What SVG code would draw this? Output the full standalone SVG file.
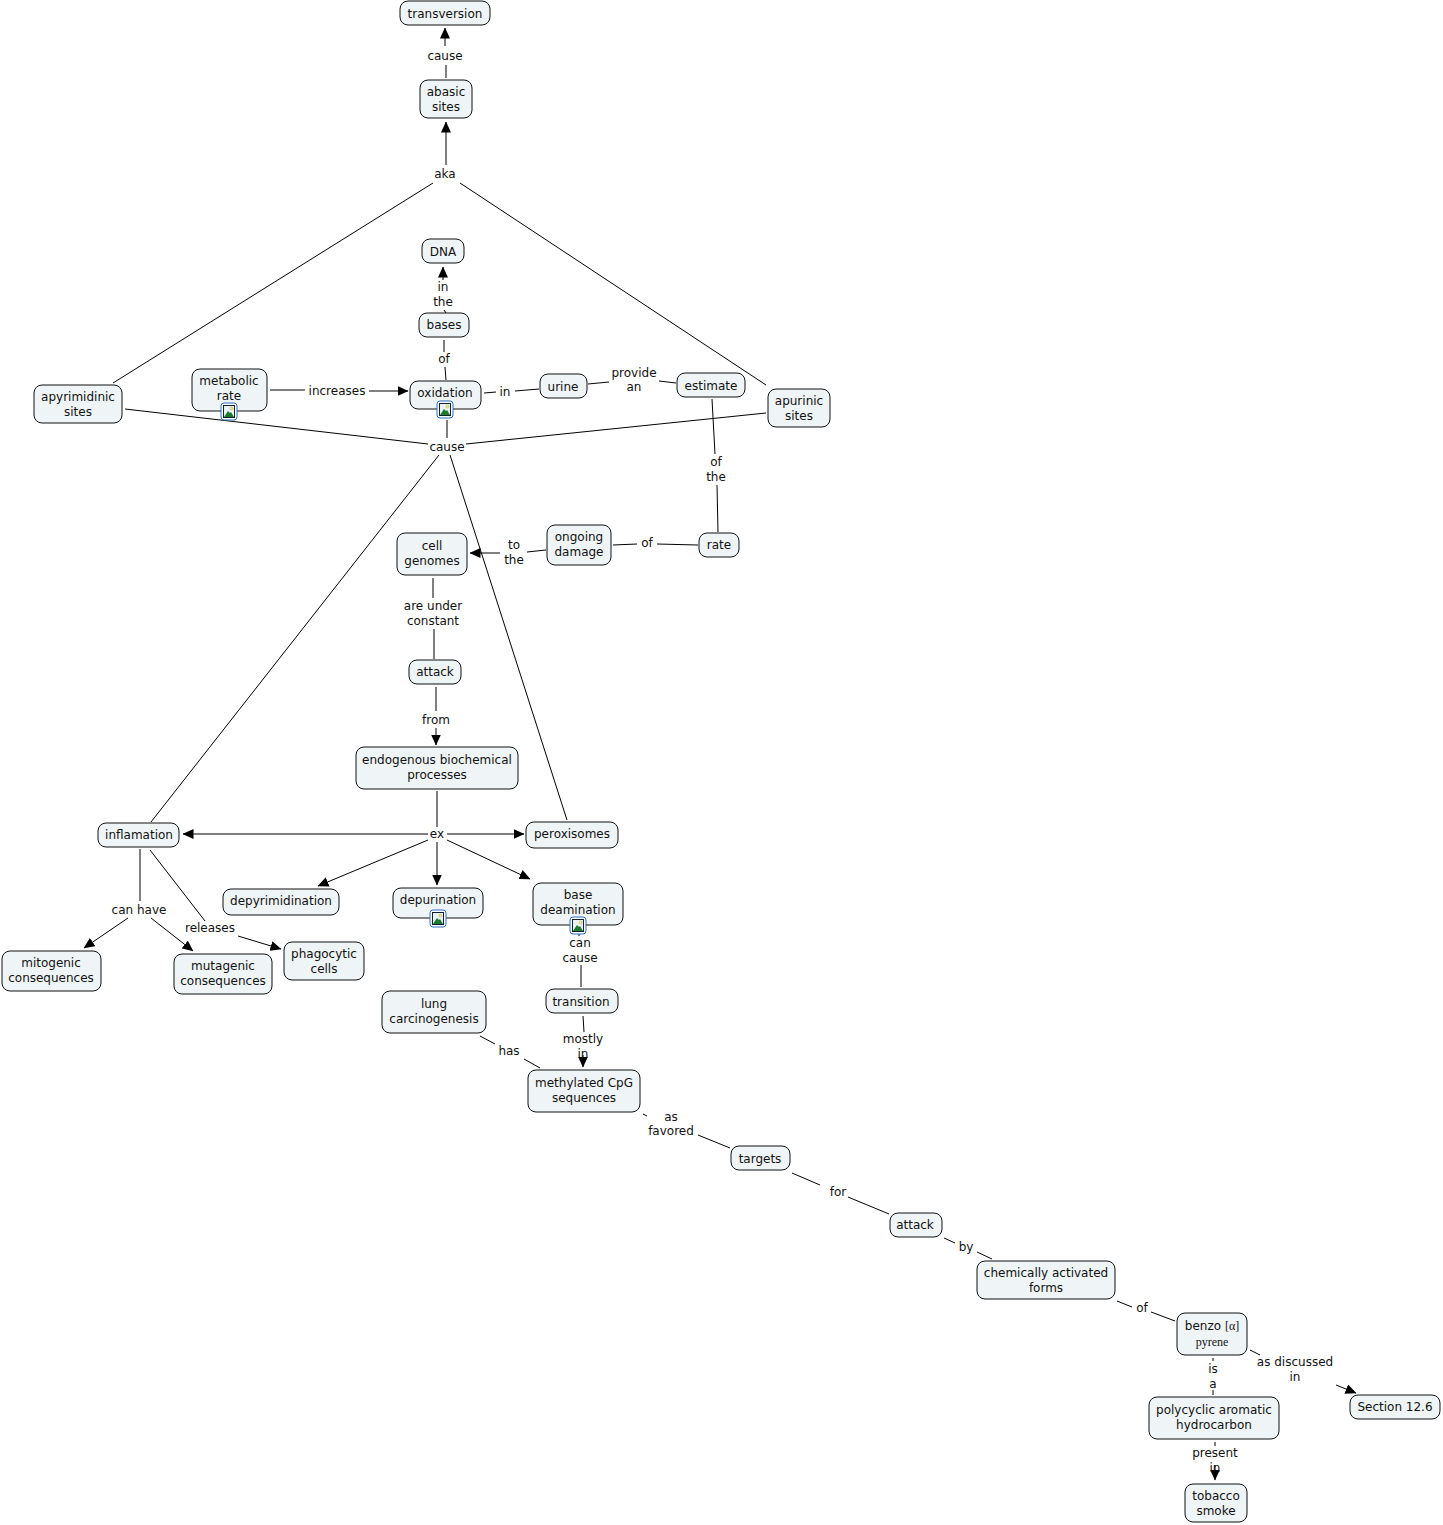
<svg xmlns="http://www.w3.org/2000/svg" width="1443" height="1525" viewBox="0 0 1443 1525">
<style>
text{font-family:"DejaVu Sans",Verdana,sans-serif;font-size:12px;fill:#111;text-anchor:middle}
.n{fill:#eff5f7;stroke:#111;stroke-width:1}
.c path{fill:none;stroke:#000;stroke-width:1}
.serif{font-family:"Liberation Serif",serif}
</style>
<defs>
<marker id="a" viewBox="0 0 11 10" refX="10.5" refY="5" markerWidth="11" markerHeight="10" markerUnits="userSpaceOnUse" orient="auto"><path d="M0 0L11 5L0 10Z" fill="#000" stroke="none"/></marker>
<g id="icon"><rect x="-8" y="-9" width="16" height="17" rx="3" fill="#fff" stroke="#2a6fc0" stroke-width="1"/><rect x="-5.5" y="-6.5" width="11" height="12" fill="#eaf2f6" stroke="#123" stroke-width="1"/><path d="M-5 5L-1 -1L1 1L2 0L5 5Z" fill="#1c7a2c"/><circle cx="2.5" cy="-3.5" r="1.5" fill="#f2e9a0" stroke="#b9a23c" stroke-width="0.5"/></g>
</defs>
<g id="connectors" class="c">
<path d="M446 165V122" marker-end="url(#a)"/>
<path d="M446 78V65"/><path d="M445 46V28" marker-end="url(#a)"/>
<path d="M433 183L113 383"/><path d="M460 183L766 385"/>
<path d="M443 280V267" marker-end="url(#a)"/><path d="M444 310L446 313"/>
<path d="M444 340V352"/><path d="M445 367L446 380"/>
<path d="M270 390H305"/><path d="M369 391H408" marker-end="url(#a)"/>
<path d="M484 393L496 392"/><path d="M515 391L539 389"/>
<path d="M588 384L609 382"/><path d="M659 381L676 383"/>
<path d="M712 399L715 454"/><path d="M717 485L718 532"/>
<path d="M698 545L657 544"/><path d="M637 544L613 545"/>
<path d="M546 550L527 552"/><path d="M500 553H470" marker-end="url(#a)"/>
<path d="M433 578V598"/><path d="M434 629V659"/>
<path d="M436 687V711"/><path d="M436 728V745" marker-end="url(#a)"/>
<path d="M437 791V827"/>
<path d="M428 834H183" marker-end="url(#a)"/>
<path d="M447 834H524" marker-end="url(#a)"/>
<path d="M428 840L318 886" marker-end="url(#a)"/>
<path d="M437 842V885" marker-end="url(#a)"/>
<path d="M447 840L530 879" marker-end="url(#a)"/>
<path d="M125 409L428 444"/><path d="M466 444L766 413"/>
<path d="M439 455L151 822"/><path d="M450 455L567 820"/>
<path d="M447 420V438"/>
<path d="M140 849V901"/><path d="M128 918L84 948" marker-end="url(#a)"/><path d="M151 918L193 951" marker-end="url(#a)"/>
<path d="M150 850L205 921"/><path d="M238 936L281 949" marker-end="url(#a)"/>
<path d="M579 934V936"/><path d="M581 965V987"/>
<path d="M583 1016L584 1032"/><path d="M583 1055V1067" marker-end="url(#a)"/>
<path d="M480 1036L495 1044"/><path d="M524 1059L540 1068"/>
<path d="M643 1114L647 1116"/><path d="M698 1135L730 1148"/>
<path d="M792 1173L820 1185"/><path d="M848 1197L889 1214"/>
<path d="M944 1238L955 1243"/><path d="M977 1252L992 1259"/>
<path d="M1117 1301L1132 1307"/><path d="M1151 1312L1175 1321"/>
<path d="M1250 1350L1260 1355"/><path d="M1336 1385L1356 1393" marker-end="url(#a)"/>
<path d="M1213 1358V1361"/><path d="M1213 1390V1395"/>
<path d="M1215 1442V1446"/><path d="M1215 1465V1480" marker-end="url(#a)"/>
</g>
<g id="n-transversion"><rect class="n" x="400" y="1" width="90" height="24" rx="8"/><text x="445" y="18">transversion</text></g>
<g id="n-abasic"><rect class="n" x="420" y="80" width="52" height="38" rx="8"/><text x="446" y="96">abasic</text><text x="446" y="111">sites</text></g>
<g id="n-dna"><rect class="n" x="422" y="239" width="42" height="24" rx="8"/><text x="443" y="256">DNA</text></g>
<g id="n-bases"><rect class="n" x="419" y="313" width="50" height="24" rx="8"/><text x="444" y="329">bases</text></g>
<g id="n-metabolic"><rect class="n" x="192" y="369" width="75" height="42" rx="8"/><text x="229" y="385">metabolic</text><text x="229" y="400">rate</text><use href="#icon" x="229" y="412"/></g>
<g id="n-oxidation"><rect class="n" x="410" y="381" width="71" height="28" rx="8"/><text x="445" y="397">oxidation</text><use href="#icon" x="445" y="410"/></g>
<g id="n-urine"><rect class="n" x="540" y="374" width="47" height="24" rx="8"/><text x="563" y="391">urine</text></g>
<g id="n-estimate"><rect class="n" x="677" y="373" width="68" height="24" rx="8"/><text x="711" y="390">estimate</text></g>
<g id="n-apyrimidinic"><rect class="n" x="34" y="385" width="88" height="38" rx="8"/><text x="78" y="401">apyrimidinic</text><text x="78" y="416">sites</text></g>
<g id="n-apurinic"><rect class="n" x="768" y="389" width="62" height="38" rx="8"/><text x="799" y="405">apurinic</text><text x="799" y="420">sites</text></g>
<g id="n-genomes"><rect class="n" x="397" y="533" width="70" height="42" rx="8"/><text x="432" y="550">cell</text><text x="432" y="565">genomes</text></g>
<g id="n-damage"><rect class="n" x="547" y="525" width="64" height="40" rx="8"/><text x="579" y="541">ongoing</text><text x="579" y="556">damage</text></g>
<g id="n-rate"><rect class="n" x="699" y="533" width="40" height="24" rx="8"/><text x="719" y="549">rate</text></g>
<g id="n-attack1"><rect class="n" x="409" y="660" width="52" height="24" rx="8"/><text x="435" y="676">attack</text></g>
<g id="n-endogenous"><rect class="n" x="356" y="747" width="162" height="42" rx="8"/><text x="437" y="764">endogenous biochemical</text><text x="437" y="779">processes</text></g>
<g id="n-inflamation"><rect class="n" x="98" y="823" width="81" height="24" rx="8"/><text x="139" y="839">inflamation</text></g>
<g id="n-peroxisomes"><rect class="n" x="526" y="822" width="92" height="26" rx="8"/><text x="572" y="838">peroxisomes</text></g>
<g id="n-depyrimidination"><rect class="n" x="223" y="889" width="116" height="26" rx="8"/><text x="281" y="905">depyrimidination</text></g>
<g id="n-depurination"><rect class="n" x="393" y="888" width="90" height="30" rx="8"/><text x="438" y="904">depurination</text><use href="#icon" x="438" y="919"/></g>
<g id="n-deamination"><rect class="n" x="533" y="883" width="90" height="42" rx="8"/><text x="578" y="899">base</text><text x="578" y="914">deamination</text><use href="#icon" x="578" y="926"/></g>
<g id="n-mitogenic"><rect class="n" x="2" y="951" width="99" height="40" rx="8"/><text x="51" y="967">mitogenic</text><text x="51" y="982">consequences</text></g>
<g id="n-mutagenic"><rect class="n" x="174" y="954" width="98" height="40" rx="8"/><text x="223" y="970">mutagenic</text><text x="223" y="985">consequences</text></g>
<g id="n-phagocytic"><rect class="n" x="284" y="942" width="80" height="38" rx="8"/><text x="324" y="958">phagocytic</text><text x="324" y="973">cells</text></g>
<g id="n-lung"><rect class="n" x="382" y="991" width="104" height="42" rx="8"/><text x="434" y="1008">lung</text><text x="434" y="1023">carcinogenesis</text></g>
<g id="n-transition"><rect class="n" x="546" y="989" width="72" height="24" rx="8"/><text x="581" y="1006">transition</text></g>
<g id="n-methylated"><rect class="n" x="528" y="1070" width="112" height="42" rx="8"/><text x="584" y="1087">methylated CpG</text><text x="584" y="1102">sequences</text></g>
<g id="n-targets"><rect class="n" x="731" y="1146" width="59" height="24" rx="8"/><text x="760" y="1163">targets</text></g>
<g id="n-attack2"><rect class="n" x="890" y="1213" width="52" height="24" rx="8"/><text x="915" y="1229">attack</text></g>
<g id="n-chemically"><rect class="n" x="977" y="1261" width="138" height="38" rx="8"/><text x="1046" y="1277">chemically activated</text><text x="1046" y="1292">forms</text></g>
<g id="n-benzo"><rect class="n" x="1177" y="1313" width="70" height="42" rx="8"/><text x="1212" y="1330">benzo <tspan class="serif">[α]</tspan></text><text class="serif" x="1212" y="1346">pyrene</text></g>
<g id="n-polycyclic"><rect class="n" x="1149" y="1397" width="130" height="42" rx="8"/><text x="1214" y="1414">polycyclic aromatic</text><text x="1214" y="1429">hydrocarbon</text></g>
<g id="n-section"><rect class="n" x="1350" y="1395" width="90" height="24" rx="8"/><text x="1395" y="1411">Section 12.6</text></g>
<g id="n-tobacco"><rect class="n" x="1185" y="1484" width="62" height="38" rx="8"/><text x="1216" y="1500">tobacco</text><text x="1216" y="1515">smoke</text></g>
<g id="labels">
<text x="445" y="60">cause</text>
<text x="445" y="178">aka</text>
<text x="443" y="291">in</text><text x="443" y="306">the</text>
<text x="444" y="363">of</text>
<text x="337" y="395">increases</text>
<text x="505" y="396">in</text>
<text x="634" y="377">provide</text><text x="634" y="391">an</text>
<text x="447" y="451">cause</text>
<text x="716" y="466">of</text><text x="716" y="481">the</text>
<text x="647" y="547">of</text>
<text x="514" y="549">to</text><text x="514" y="564">the</text>
<text x="433" y="610">are under</text><text x="433" y="625">constant</text>
<text x="436" y="724">from</text>
<text x="437" y="838">ex</text>
<text x="139" y="914">can have</text>
<text x="210" y="932">releases</text>
<text x="580" y="947">can</text><text x="580" y="962">cause</text>
<text x="583" y="1043">mostly</text><text x="583" y="1058">in</text>
<text x="509" y="1055">has</text>
<text x="671" y="1121">as</text><text x="671" y="1135">favored</text>
<text x="838" y="1196">for</text>
<text x="966" y="1251">by</text>
<text x="1142" y="1312">of</text>
<text x="1295" y="1366">as discussed</text><text x="1295" y="1381">in</text>
<text x="1213" y="1373">is</text><text x="1213" y="1388">a</text>
<text x="1215" y="1457">present</text><text x="1215" y="1472">in</text>
</g>
</svg>
